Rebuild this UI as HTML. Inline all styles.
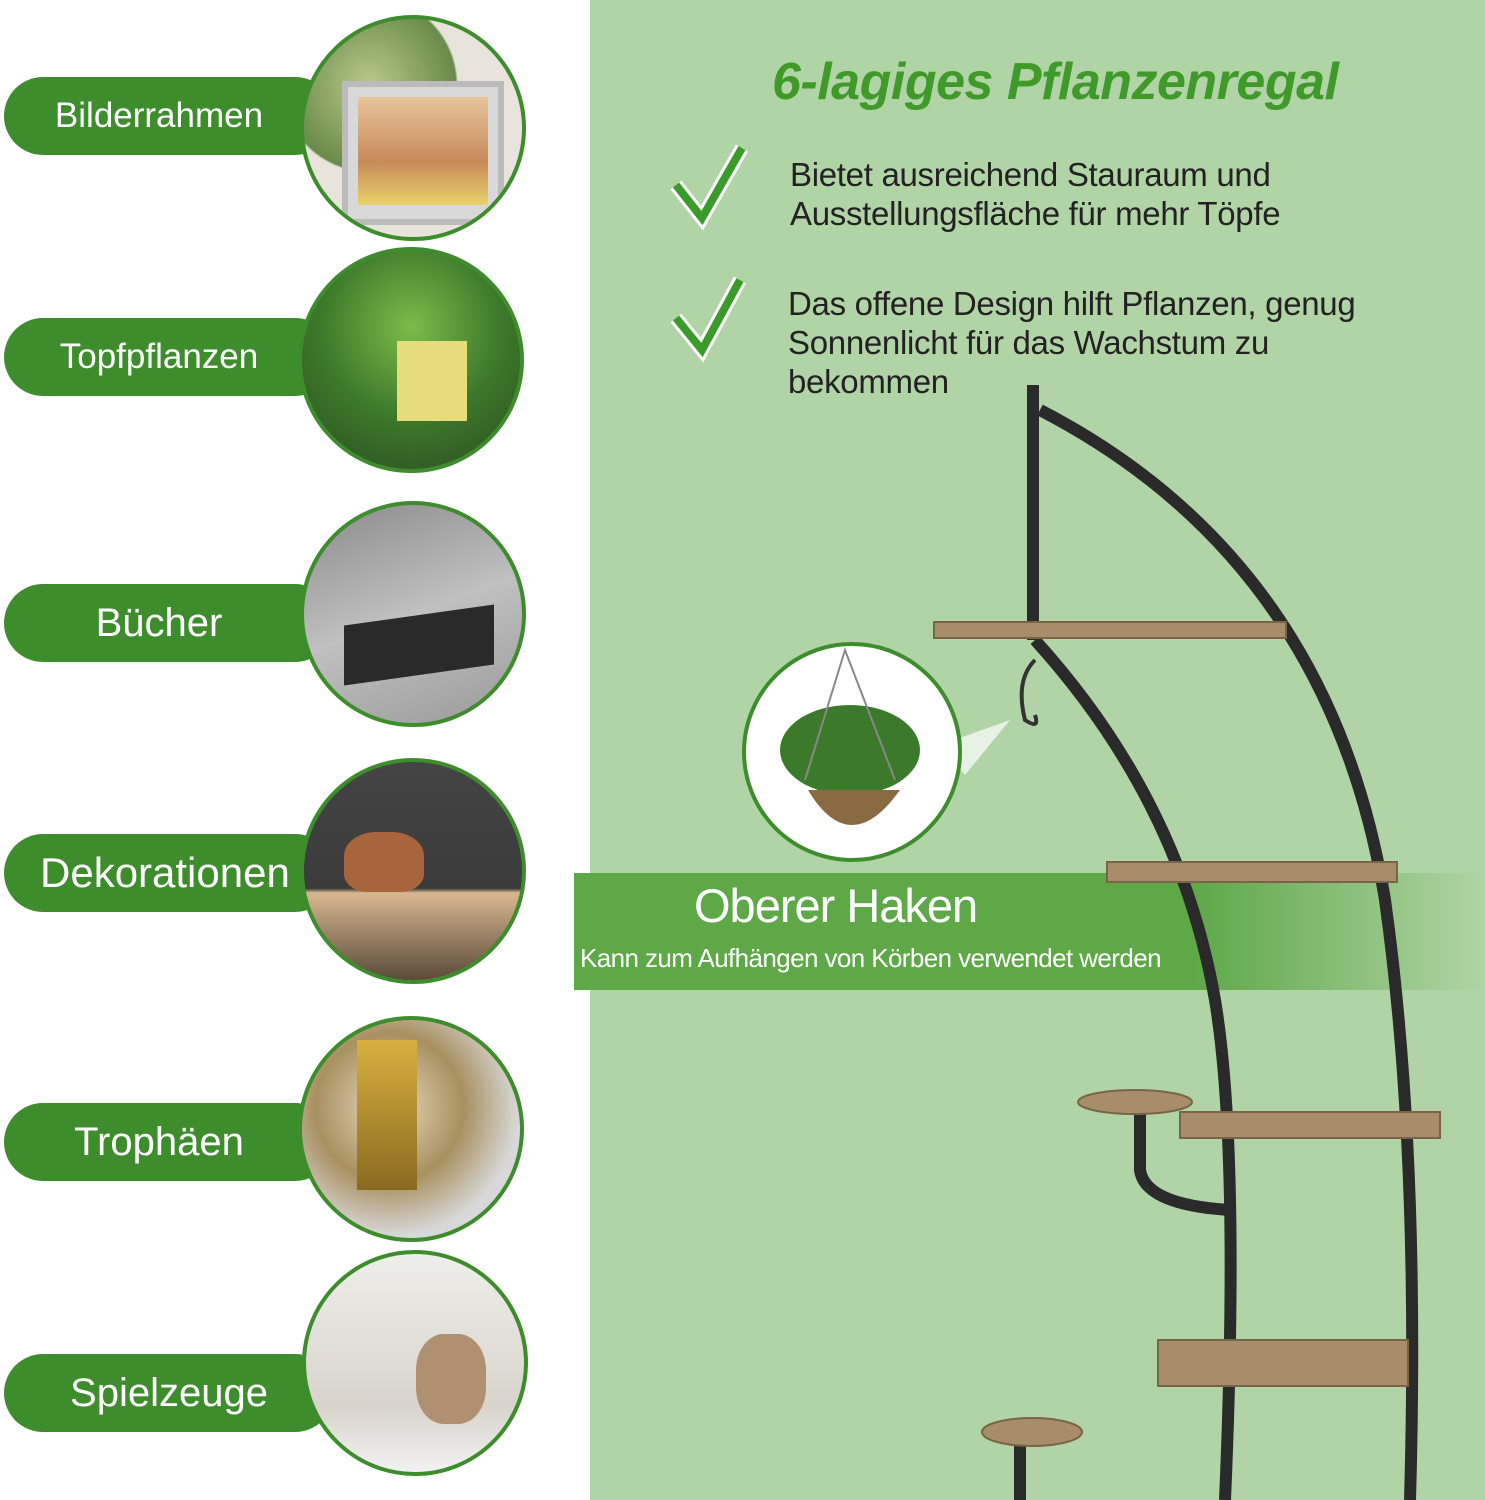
<!DOCTYPE html>
<html><head><meta charset="utf-8"><style>
body{margin:0;width:1485px;height:1500px;position:relative;overflow:hidden;background:#fff;font-family:"Liberation Sans",sans-serif}
.right{position:absolute;left:590px;top:0;width:895px;height:1500px;background:#b0d4a5}
.pill{position:absolute;left:4px;width:330px;height:78px;border-radius:39px;background:#3e8d2c;color:#fff;font-size:38px;line-height:78px;text-align:center;box-sizing:border-box;padding-right:20px}
.c{position:absolute;width:226px;height:226px;border-radius:50%;border:4px solid #3e8d2c;box-sizing:border-box;overflow:hidden}
.t{position:absolute;color:#222;font-size:33px;line-height:39px;letter-spacing:-0.3px}
</style></head><body>
<div class="right"></div>

<div class="pill" style="top:77px;font-size:35px">Bilderrahmen</div>
<div class="pill" style="top:318px;font-size:35px">Topfpflanzen</div>
<div class="pill" style="top:584px;font-size:40px">Bücher</div>
<div class="pill" style="top:834px;font-size:42px;padding-right:20px;text-align:left;padding-left:36px">Dekorationen</div>
<div class="pill" style="top:1103px;font-size:40px">Trophäen</div>
<div class="pill" style="top:1354px;font-size:40px;padding-right:0px">Spielzeuge</div>

<div class="c" style="left:300px;top:15px;background:radial-gradient(circle at 30% 30%,#b7c98a,#6a8a4a 40%,#e8e4dc 41%)"><div style="position:absolute;left:38px;top:62px;width:150px;height:132px;background:#d8d8d8;border:6px solid #bbb"><div style="margin:10px;height:108px;background:linear-gradient(#e6c59a,#c88a5a 60%,#e8d36a)"></div></div></div>
<div class="c" style="left:298px;top:247px;background:radial-gradient(circle at 50% 35%,#7dbb4a,#3d7a2a 50%,#2b4a20)"><div style="position:absolute;left:95px;top:90px;width:70px;height:80px;background:#e6dc7a"></div></div>
<div class="c" style="left:300px;top:501px;background:linear-gradient(160deg,#8a8a8a,#c0c0c0 50%,#9a9a9a)"><div style="position:absolute;left:40px;top:110px;width:150px;height:60px;background:#2a2a2a;transform:skewY(-8deg)"></div></div>
<div class="c" style="left:300px;top:758px;background:linear-gradient(#444 0,#3b3b3b 58%,#d8b890 60%,#5a4a3a 100%)"><div style="position:absolute;left:40px;top:70px;width:80px;height:60px;border-radius:40% 40% 30% 30%;background:#a8643a"></div></div>
<div class="c" style="left:298px;top:1016px;background:radial-gradient(circle at 40% 40%,#e8dcc0,#a89060 40%,#d8d8d8 70%)"><div style="position:absolute;left:55px;top:20px;width:60px;height:150px;background:linear-gradient(#d8b040,#8a6a20)"></div></div>
<div class="c" style="left:302px;top:1250px;background:linear-gradient(#eeeeea,#d8d4cc 70%,#f2f2f2)"><div style="position:absolute;left:110px;top:80px;width:70px;height:90px;border-radius:40%;background:#b09070"></div></div>

<div style="position:absolute;left:772px;top:52px;color:#3f9a2a;font-size:52px;font-weight:bold;font-style:italic;letter-spacing:-0.5px">6-lagiges Pflanzenregal</div>
<svg style="position:absolute;left:670px;top:140px" width="80" height="230"><path d="M6 45 L32 78 L72 8" stroke="#fff" stroke-width="14" fill="none"/><path d="M6 45 L32 78 L72 8" stroke="#3a9a2a" stroke-width="8" fill="none"/><path d="M6 178 L32 210 L70 140" stroke="#fff" stroke-width="14" fill="none"/><path d="M6 178 L32 210 L70 140" stroke="#3a9a2a" stroke-width="8" fill="none"/></svg>
<div class="t" style="left:790px;top:155px">Bietet ausreichend Stauraum und<br>Ausstellungsfläche für mehr Töpfe</div>
<div class="t" style="left:788px;top:284px">Das offene Design hilft Pflanzen, genug<br>Sonnenlicht für das Wachstum zu<br>bekommen</div>

<svg style="position:absolute;left:0;top:0" width="1485" height="1500">
<defs><linearGradient id="bn" x1="0" x2="1"><stop offset="0" stop-color="#5ea848"/><stop offset="0.68" stop-color="#5ea848"/><stop offset="1" stop-color="#b0d4a5"/></linearGradient></defs>
<rect x="574" y="873" width="911" height="117" fill="url(#bn)"/>
<g fill="none" stroke="#2a2a2a" stroke-width="12">
<path d="M1033 385 L1033 640"/>
<path d="M1040 410 Q1330 560 1385 900 Q1420 1150 1410 1500"/>
<path d="M1035 640 Q1180 800 1215 1000 Q1240 1150 1225 1500"/>
<path d="M1140 1110 L1140 1170 Q1145 1205 1230 1210"/>
<path d="M1020 1440 L1020 1500"/>
</g>
<path d="M1035 660 Q1015 680 1025 720 Q1040 730 1035 715" stroke="#333" stroke-width="4" fill="none"/>
<g fill="#a88d6a" stroke="#7a6448" stroke-width="2">
<rect x="934" y="622" width="352" height="16"/>
<rect x="1107" y="862" width="290" height="20"/>
<rect x="1180" y="1112" width="260" height="26"/>
<rect x="1158" y="1340" width="250" height="46"/>
<ellipse cx="1135" cy="1102" rx="57" ry="12"/>
<ellipse cx="1032" cy="1432" rx="50" ry="14"/>
</g>
<polygon points="940,745 1010,720 965,775" fill="#fff" opacity="0.7"/>
<circle cx="852" cy="752" r="108" fill="#fff" stroke="#3e8d2c" stroke-width="4"/>
<ellipse cx="850" cy="750" rx="70" ry="45" fill="#3a7a2a"/>
<path d="M808 790 Q850 860 900 790 Z" fill="#8a6a40"/>
<path d="M805 780 L845 650 L895 780" stroke="#888" stroke-width="2" fill="none"/>
</svg>
<div style="position:absolute;left:694px;top:878px;color:#fff;font-size:47px;letter-spacing:-1px">Oberer Haken</div>
<div style="position:absolute;left:580px;top:943px;color:#fff;font-size:26px;letter-spacing:-0.6px">Kann zum Aufhängen von Körben verwendet werden</div>
</body></html>
